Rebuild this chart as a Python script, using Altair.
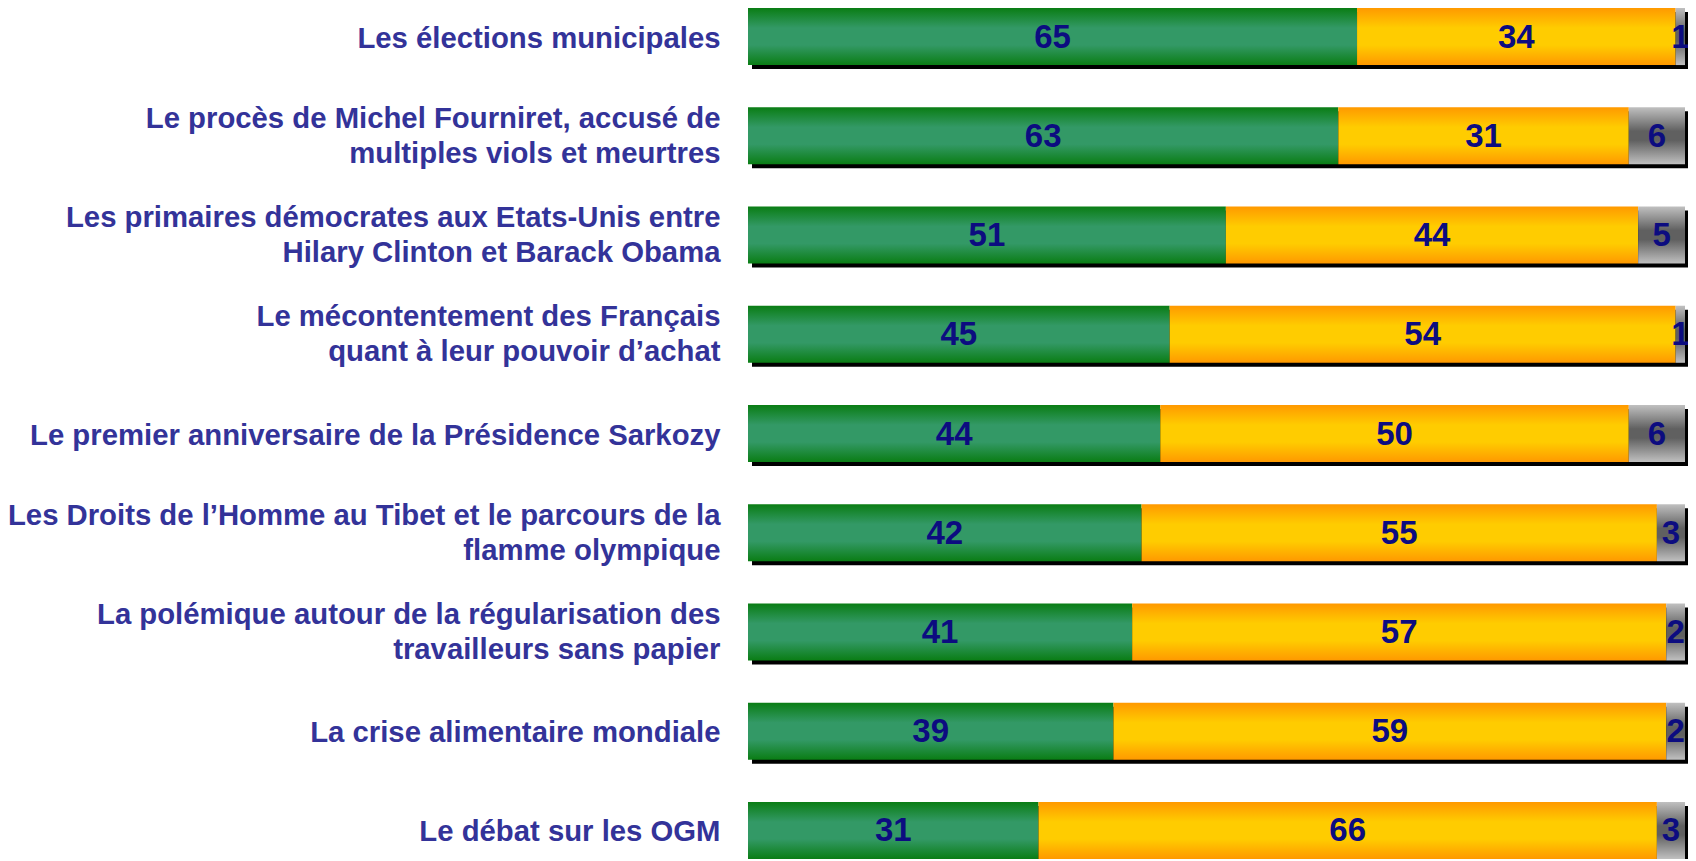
import altair as alt
import pandas as pd

categories = [
    "Les élections municipales",
    "Le procès de Michel Fourniret, accusé de|multiples viols et meurtres",
    "Les primaires démocrates aux Etats-Unis entre|Hilary Clinton et Barack Obama",
    "Le mécontentement des Français|quant à leur pouvoir d’achat",
    "Le premier anniversaire de la Présidence Sarkozy",
    "Les Droits de l’Homme au Tibet et le parcours de la|flamme olympique",
    "La polémique autour de la régularisation des|travailleurs sans papier",
    "La crise alimentaire mondiale",
    "Le débat sur les OGM",
]
green_vals = [65, 63, 51, 45, 44, 42, 41, 39, 31]
orange_vals = [34, 31, 44, 54, 50, 55, 57, 59, 66]
gray_vals = [1, 6, 5, 1, 6, 3, 2, 2, 3]
segments = ["vert", "orange", "gris"]

rows = []
for i, c in enumerate(categories):
    for k, (s, vals) in enumerate(zip(segments, [green_vals, orange_vals, gray_vals])):
        rows.append({"cat": c, "seg": s, "order": k, "value": vals[i]})
df = pd.DataFrame(rows)


def grad(edge, mid, a=0.35, b=0.65):
    return alt.Gradient(
        gradient="linear", x1=0, x2=0, y1=0, y2=1,
        stops=[
            alt.GradientStop(color=edge, offset=0),
            alt.GradientStop(color=mid, offset=a),
            alt.GradientStop(color=mid, offset=b),
            alt.GradientStop(color=edge, offset=1),
        ],
    )


yenc = alt.Y(
    "cat:N",
    sort=categories,
    scale=alt.Scale(paddingInner=0.425, paddingOuter=0),
    axis=alt.Axis(
        title=None, ticks=False, domain=False, labelLimit=0,
        labelExpr="split(datum.label, '|')",
        labelFont="Liberation Sans", labelFontWeight="bold", labelFontSize=29.3,
        labelColor="#333399", labelLineHeight=35, labelPadding=28,
        labelAlign="right", labelBaseline="middle",
        labelOffset={"condition": {"test": "indexof(datum.value, '|') >= 0", "value": -17}, "value": 2},
    ),
)
xscale = alt.Scale(domain=[0, 100], nice=False)

base = alt.Chart(df).transform_stack(
    stack="value", groupby=["cat"], as_=["x0", "x1"],
    sort=[alt.SortField("order", order="ascending")],
).transform_calculate(mid="(datum.x0 + datum.x1) / 2")

shadow = base.transform_filter("datum.order == 2").transform_calculate(xs="0").mark_rect(
    color="black", xOffset=4, x2Offset=9, yOffset=4, y2Offset=8
).encode(
    x=alt.X("xs:Q", scale=xscale, axis=None),
    x2="x1:Q",
    y=yenc,
)

colors = {
    "vert": grad("#0a7d14", "#339966"),
    "orange": grad("#ff9900", "#ffcc00"),
    "gris": grad("#c0c0c0", "#606060", 0.42, 0.58),
}

layers = [shadow]
for s in segments:
    layers.append(
        base.transform_filter(alt.datum.seg == s).mark_rect(color=colors[s]).encode(
            x=alt.X("x0:Q", scale=xscale, axis=None),
            x2="x1:Q",
            y=yenc,
        )
    )

labels = base.mark_text(
    font="Liberation Sans", fontWeight="bold", fontSize=33, color="#0c0c80",
    align="center", baseline="middle", dy=1,
).encode(
    x=alt.X("mid:Q", scale=xscale, axis=None),
    y=yenc,
    text="value:Q",
)
layers.append(labels)

chart = alt.layer(*layers).properties(
    width=937, height=851,
    autosize=alt.AutoSizeParams(type="none"),
    padding={"left": 740, "top": 0, "right": 3, "bottom": 0},
).configure_view(strokeWidth=0)

chart.save("out.html", embed_options={"renderer": "svg", "actions": False})
